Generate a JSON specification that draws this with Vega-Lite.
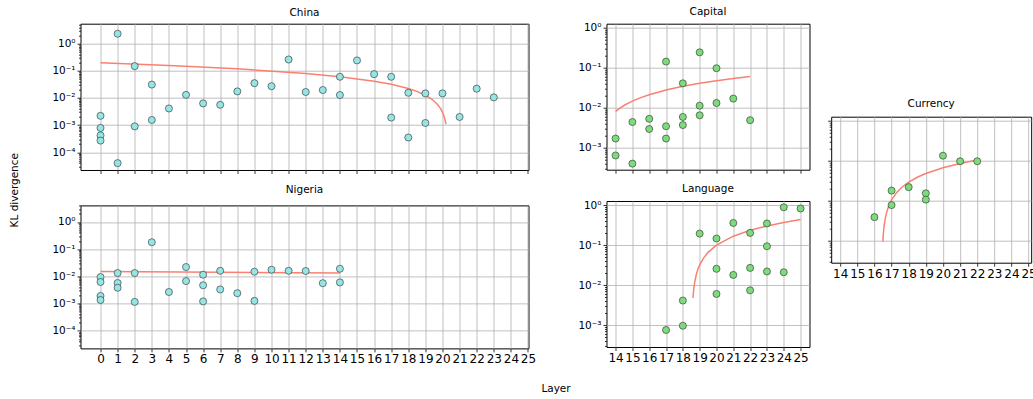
{
  "$schema": "https://vega.github.io/schema/vega-lite/v6.json",
  "padding": {"left": 8.5, "top": 5.7, "right": 0, "bottom": 0},
  "config": {
    "view": {"stroke": "black", "strokeWidth": 1},
    "title": {"font": "DejaVu Sans", "fontSize": 10.5, "fontWeight": "normal", "color": "black", "offset": 6, "frame": "group"},
    "axis": {"domain": false, "grid": true, "gridColor": "#b0b0b0", "gridWidth": 0.8, "tickColor": "black", "tickWidth": 0.8, "tickSize": 3.5,
      "labelFont": "DejaVu Sans", "labelColor": "black", "labelOverlap": false, "labelFlush": false,
      "titleFont": "DejaVu Sans", "titleFontSize": 10.5, "titleFontWeight": "normal", "titleColor": "black"}
  },
  "datasets": {
    "pts": [
      {"p": "China", "layer": 0, "kl": 0.0022}, {"p": "China", "layer": 0, "kl": 0.00079}, {"p": "China", "layer": 0, "kl": 0.00042}, {"p": "China", "layer": 0, "kl": 0.00027},
      {"p": "China", "layer": 1, "kl": 2.3}, {"p": "China", "layer": 1, "kl": 0.00004},
      {"p": "China", "layer": 2, "kl": 0.148}, {"p": "China", "layer": 2, "kl": 0.0009},
      {"p": "China", "layer": 3, "kl": 0.031}, {"p": "China", "layer": 3, "kl": 0.00155},
      {"p": "China", "layer": 4, "kl": 0.0041},
      {"p": "China", "layer": 5, "kl": 0.013},
      {"p": "China", "layer": 6, "kl": 0.0063},
      {"p": "China", "layer": 7, "kl": 0.0056},
      {"p": "China", "layer": 8, "kl": 0.0174},
      {"p": "China", "layer": 9, "kl": 0.035},
      {"p": "China", "layer": 10, "kl": 0.027},
      {"p": "China", "layer": 11, "kl": 0.26},
      {"p": "China", "layer": 12, "kl": 0.0165},
      {"p": "China", "layer": 13, "kl": 0.0195},
      {"p": "China", "layer": 14, "kl": 0.06}, {"p": "China", "layer": 14, "kl": 0.0128},
      {"p": "China", "layer": 15, "kl": 0.24},
      {"p": "China", "layer": 16, "kl": 0.075},
      {"p": "China", "layer": 17, "kl": 0.06}, {"p": "China", "layer": 17, "kl": 0.0019},
      {"p": "China", "layer": 18, "kl": 0.0155}, {"p": "China", "layer": 18, "kl": 0.00035},
      {"p": "China", "layer": 19, "kl": 0.0147}, {"p": "China", "layer": 19, "kl": 0.0012},
      {"p": "China", "layer": 20, "kl": 0.0147},
      {"p": "China", "layer": 21, "kl": 0.002},
      {"p": "China", "layer": 22, "kl": 0.022},
      {"p": "China", "layer": 23, "kl": 0.0105},
      {"p": "Nigeria", "layer": 0, "kl": 0.0094}, {"p": "Nigeria", "layer": 0, "kl": 0.0062}, {"p": "Nigeria", "layer": 0, "kl": 0.0019}, {"p": "Nigeria", "layer": 0, "kl": 0.00135},
      {"p": "Nigeria", "layer": 1, "kl": 0.0132}, {"p": "Nigeria", "layer": 1, "kl": 0.0057}, {"p": "Nigeria", "layer": 1, "kl": 0.0038},
      {"p": "Nigeria", "layer": 2, "kl": 0.0132}, {"p": "Nigeria", "layer": 2, "kl": 0.00115},
      {"p": "Nigeria", "layer": 3, "kl": 0.18},
      {"p": "Nigeria", "layer": 4, "kl": 0.00265},
      {"p": "Nigeria", "layer": 5, "kl": 0.022}, {"p": "Nigeria", "layer": 5, "kl": 0.0067},
      {"p": "Nigeria", "layer": 6, "kl": 0.0115}, {"p": "Nigeria", "layer": 6, "kl": 0.0047}, {"p": "Nigeria", "layer": 6, "kl": 0.0012},
      {"p": "Nigeria", "layer": 7, "kl": 0.016}, {"p": "Nigeria", "layer": 7, "kl": 0.0033},
      {"p": "Nigeria", "layer": 8, "kl": 0.0024},
      {"p": "Nigeria", "layer": 9, "kl": 0.0148}, {"p": "Nigeria", "layer": 9, "kl": 0.00125},
      {"p": "Nigeria", "layer": 10, "kl": 0.0175},
      {"p": "Nigeria", "layer": 11, "kl": 0.016},
      {"p": "Nigeria", "layer": 12, "kl": 0.0157},
      {"p": "Nigeria", "layer": 13, "kl": 0.0056},
      {"p": "Nigeria", "layer": 14, "kl": 0.019}, {"p": "Nigeria", "layer": 14, "kl": 0.006},
      {"p": "Capital", "layer": 14, "kl": 0.0017}, {"p": "Capital", "layer": 14, "kl": 0.00064},
      {"p": "Capital", "layer": 15, "kl": 0.0044}, {"p": "Capital", "layer": 15, "kl": 0.0004},
      {"p": "Capital", "layer": 16, "kl": 0.0053}, {"p": "Capital", "layer": 16, "kl": 0.00295},
      {"p": "Capital", "layer": 17, "kl": 0.144}, {"p": "Capital", "layer": 17, "kl": 0.00345}, {"p": "Capital", "layer": 17, "kl": 0.0017},
      {"p": "Capital", "layer": 18, "kl": 0.041}, {"p": "Capital", "layer": 18, "kl": 0.0059}, {"p": "Capital", "layer": 18, "kl": 0.0037},
      {"p": "Capital", "layer": 19, "kl": 0.245}, {"p": "Capital", "layer": 19, "kl": 0.0113}, {"p": "Capital", "layer": 19, "kl": 0.0065},
      {"p": "Capital", "layer": 20, "kl": 0.098}, {"p": "Capital", "layer": 20, "kl": 0.0132},
      {"p": "Capital", "layer": 21, "kl": 0.017},
      {"p": "Capital", "layer": 22, "kl": 0.0049},
      {"p": "Language", "layer": 17, "kl": 0.00075},
      {"p": "Language", "layer": 18, "kl": 0.0041}, {"p": "Language", "layer": 18, "kl": 0.00096},
      {"p": "Language", "layer": 19, "kl": 0.195},
      {"p": "Language", "layer": 20, "kl": 0.147}, {"p": "Language", "layer": 20, "kl": 0.0256}, {"p": "Language", "layer": 20, "kl": 0.006},
      {"p": "Language", "layer": 21, "kl": 0.36}, {"p": "Language", "layer": 21, "kl": 0.018},
      {"p": "Language", "layer": 22, "kl": 0.203}, {"p": "Language", "layer": 22, "kl": 0.027}, {"p": "Language", "layer": 22, "kl": 0.0074},
      {"p": "Language", "layer": 23, "kl": 0.35}, {"p": "Language", "layer": 23, "kl": 0.094}, {"p": "Language", "layer": 23, "kl": 0.022},
      {"p": "Language", "layer": 24, "kl": 0.89}, {"p": "Language", "layer": 24, "kl": 0.021},
      {"p": "Language", "layer": 25, "kl": 0.83},
      {"p": "Currency", "layer": 16, "kl": 0.0039},
      {"p": "Currency", "layer": 17, "kl": 0.018}, {"p": "Currency", "layer": 17, "kl": 0.0078},
      {"p": "Currency", "layer": 18, "kl": 0.022},
      {"p": "Currency", "layer": 19, "kl": 0.0154}, {"p": "Currency", "layer": 19, "kl": 0.0107},
      {"p": "Currency", "layer": 20, "kl": 0.135},
      {"p": "Currency", "layer": 21, "kl": 0.098},
      {"p": "Currency", "layer": 22, "kl": 0.098}
    ],
    "fit": [
      {"p": "China", "layer": 0, "kl": 0.195}, {"p": "China", "layer": 4, "kl": 0.1566}, {"p": "China", "layer": 8, "kl": 0.1182},
      {"p": "China", "layer": 12, "kl": 0.0798}, {"p": "China", "layer": 14, "kl": 0.0606}, {"p": "China", "layer": 16, "kl": 0.0414},
      {"p": "China", "layer": 17, "kl": 0.0318}, {"p": "China", "layer": 18, "kl": 0.0222}, {"p": "China", "layer": 18.5, "kl": 0.0174},
      {"p": "China", "layer": 19, "kl": 0.0126}, {"p": "China", "layer": 19.4, "kl": 0.00876}, {"p": "China", "layer": 19.7, "kl": 0.00588},
      {"p": "China", "layer": 19.9, "kl": 0.00396}, {"p": "China", "layer": 20.05, "kl": 0.00252}, {"p": "China", "layer": 20.15, "kl": 0.00156},
      {"p": "China", "layer": 20.2, "kl": 0.00108},
      {"p": "Nigeria", "layer": 0, "kl": 0.0151}, {"p": "Nigeria", "layer": 7, "kl": 0.01415}, {"p": "Nigeria", "layer": 14, "kl": 0.0132},
      {"p": "Capital", "layer": 14, "kl": 0.0081}, {"p": "Capital", "layer": 14.3, "kl": 0.0101}, {"p": "Capital", "layer": 14.6, "kl": 0.0121},
      {"p": "Capital", "layer": 15, "kl": 0.0147}, {"p": "Capital", "layer": 15.5, "kl": 0.018}, {"p": "Capital", "layer": 16, "kl": 0.0213},
      {"p": "Capital", "layer": 17, "kl": 0.0279}, {"p": "Capital", "layer": 18, "kl": 0.0345}, {"p": "Capital", "layer": 19, "kl": 0.0411},
      {"p": "Capital", "layer": 20, "kl": 0.0477}, {"p": "Capital", "layer": 21, "kl": 0.0543}, {"p": "Capital", "layer": 22, "kl": 0.0609},
      {"p": "Language", "layer": 18.6, "kl": 0.00476}, {"p": "Language", "layer": 18.65, "kl": 0.00816}, {"p": "Language", "layer": 18.7, "kl": 0.01156},
      {"p": "Language", "layer": 18.8, "kl": 0.0184}, {"p": "Language", "layer": 18.9, "kl": 0.0252}, {"p": "Language", "layer": 19, "kl": 0.032},
      {"p": "Language", "layer": 19.25, "kl": 0.049}, {"p": "Language", "layer": 19.5, "kl": 0.066}, {"p": "Language", "layer": 20, "kl": 0.1},
      {"p": "Language", "layer": 21, "kl": 0.168}, {"p": "Language", "layer": 22, "kl": 0.236}, {"p": "Language", "layer": 23, "kl": 0.304},
      {"p": "Language", "layer": 24, "kl": 0.372}, {"p": "Language", "layer": 25, "kl": 0.44},
      {"p": "Currency", "layer": 16.49, "kl": 0.00095}, {"p": "Currency", "layer": 16.52, "kl": 0.00151}, {"p": "Currency", "layer": 16.56, "kl": 0.00227},
      {"p": "Currency", "layer": 16.62, "kl": 0.0034}, {"p": "Currency", "layer": 16.7, "kl": 0.00491}, {"p": "Currency", "layer": 16.8, "kl": 0.0068},
      {"p": "Currency", "layer": 17, "kl": 0.01058}, {"p": "Currency", "layer": 17.3, "kl": 0.01625}, {"p": "Currency", "layer": 17.6, "kl": 0.0219},
      {"p": "Currency", "layer": 18, "kl": 0.0295}, {"p": "Currency", "layer": 18.5, "kl": 0.0389}, {"p": "Currency", "layer": 19, "kl": 0.0484},
      {"p": "Currency", "layer": 20, "kl": 0.0673}, {"p": "Currency", "layer": 21, "kl": 0.0862}, {"p": "Currency", "layer": 22, "kl": 0.1051}
    ]
  },
  "spacing": 5,
  "hconcat": [
    {
      "bounds": "flush",
      "spacing": 34.7,
      "vconcat": [
        {
          "title": {"text": "China", "offset": 1},
          "width": 448, "height": 146.3,
          "encoding": {
            "x": {"field": "layer", "type": "quantitative", "scale": {"domain": [-1.17, 25.03], "nice": false, "zero": false},
              "axis": {"values": [0,1,2,3,4,5,6,7,8,9,10,11,12,13,14,15,16,17,18,19,20,21,22,23,24,25], "labels": false, "title": null}},
            "y": {"field": "kl", "type": "quantitative", "scale": {"type": "log", "domain": [0.0000224, 5.38], "nice": false},
              "axis": {"values": [0.00003,0.00004,0.00005,0.00006,0.00007,0.00008,0.00009,0.0001,0.0002,0.0003,0.0004,0.0005,0.0006,0.0007,0.0008,0.0009,0.001,0.002,0.003,0.004,0.005,0.006,0.007,0.008,0.009,0.01,0.02,0.03,0.04,0.05,0.06,0.07,0.08,0.09,0.1,0.2,0.3,0.4,0.5,0.6,0.7,0.8,0.9,1,2,3,4,5],
                "labelExpr": "datum.value == 1 ? '10⁰' : datum.value == 0.1 ? '10⁻¹' : datum.value == 0.01 ? '10⁻²' : datum.value == 0.001 ? '10⁻³' : datum.value == 0.0001 ? '10⁻⁴' : ''",
                "labelFontSize": 10.5,
                "tickSize": {"condition": {"test": "indexof([1,0.1,0.01,0.001,0.0001], datum.value) >= 0", "value": 3.5}, "value": 2},
                "gridOpacity": {"condition": {"test": "indexof([1,0.1,0.01,0.001,0.0001], datum.value) >= 0", "value": 1}, "value": 0},
                "title": "KL divergence", "titleX": -66, "titleY": 166, "titleAlign": "center", "titleBaseline": "middle", "titleAngle": -90}}
          },
          "layer": [
            {"data": {"name": "fit"}, "transform": [{"filter": "datum.p == 'China'"}], "mark": {"type": "line", "color": "#fa8072", "strokeWidth": 1.5}},
            {"data": {"name": "pts"}, "transform": [{"filter": "datum.p == 'China'"}], "mark": {"type": "point", "shape": "circle", "filled": true, "fill": "#95e5e5", "stroke": "#2b2b2b", "strokeWidth": 0.6, "size": 50, "opacity": 1}}
          ]
        },
        {
          "title": {"text": "Nigeria", "offset": 5},
          "width": 448, "height": 143,
          "encoding": {
            "x": {"field": "layer", "type": "quantitative", "scale": {"domain": [-1.17, 25.03], "nice": false, "zero": false},
              "axis": {"values": [0,1,2,3,4,5,6,7,8,9,10,11,12,13,14,15,16,17,18,19,20,21,22,23,24,25], "labelFontSize": 12,
                "title": "Layer", "titleX": 475, "titleY": 40.3, "titleAlign": "center", "titleBaseline": "middle"}},
            "y": {"field": "kl", "type": "quantitative", "scale": {"type": "log", "domain": [0.0000224, 4.07], "nice": false},
              "axis": {"values": [0.00003,0.00004,0.00005,0.00006,0.00007,0.00008,0.00009,0.0001,0.0002,0.0003,0.0004,0.0005,0.0006,0.0007,0.0008,0.0009,0.001,0.002,0.003,0.004,0.005,0.006,0.007,0.008,0.009,0.01,0.02,0.03,0.04,0.05,0.06,0.07,0.08,0.09,0.1,0.2,0.3,0.4,0.5,0.6,0.7,0.8,0.9,1,2,3,4],
                "labelExpr": "datum.value == 1 ? '10⁰' : datum.value == 0.1 ? '10⁻¹' : datum.value == 0.01 ? '10⁻²' : datum.value == 0.001 ? '10⁻³' : datum.value == 0.0001 ? '10⁻⁴' : ''",
                "labelFontSize": 10.5,
                "tickSize": {"condition": {"test": "indexof([1,0.1,0.01,0.001,0.0001], datum.value) >= 0", "value": 3.5}, "value": 2},
                "gridOpacity": {"condition": {"test": "indexof([1,0.1,0.01,0.001,0.0001], datum.value) >= 0", "value": 1}, "value": 0},
                "title": null}}
          },
          "layer": [
            {"data": {"name": "fit"}, "transform": [{"filter": "datum.p == 'Nigeria'"}], "mark": {"type": "line", "color": "#fa8072", "strokeWidth": 1.5}},
            {"data": {"name": "pts"}, "transform": [{"filter": "datum.p == 'Nigeria'"}], "mark": {"type": "point", "shape": "circle", "filled": true, "fill": "#95e5e5", "stroke": "#2b2b2b", "strokeWidth": 0.6, "size": 50, "opacity": 1}}
          ]
        }
      ]
    },
    {
      "spacing": 15.7,
      "hconcat": [
        {
          "bounds": "flush",
          "spacing": 31.3,
          "vconcat": [
            {
              "title": {"text": "Capital", "offset": 5.5},
              "width": 203, "height": 146,
              "encoding": {
                "x": {"field": "layer", "type": "quantitative", "scale": {"domain": [13.46, 25.53], "nice": false, "zero": false},
                  "axis": {"values": [14,15,16,17,18,19,20,21,22,23,24,25], "labels": false, "title": null}},
                "y": {"field": "kl", "type": "quantitative", "scale": {"type": "log", "domain": [0.0002818, 1.279], "nice": false},
                  "axis": {"values": [0.0003,0.0004,0.0005,0.0006,0.0007,0.0008,0.0009,0.001,0.002,0.003,0.004,0.005,0.006,0.007,0.008,0.009,0.01,0.02,0.03,0.04,0.05,0.06,0.07,0.08,0.09,0.1,0.2,0.3,0.4,0.5,0.6,0.7,0.8,0.9,1],
                    "labelExpr": "datum.value == 1 ? '10⁰' : datum.value == 0.1 ? '10⁻¹' : datum.value == 0.01 ? '10⁻²' : datum.value == 0.001 ? '10⁻³' : datum.value == 0.0001 ? '10⁻⁴' : ''",
                    "labelFontSize": 10.5,
                    "tickSize": {"condition": {"test": "indexof([1,0.1,0.01,0.001,0.0001], datum.value) >= 0", "value": 3.5}, "value": 2},
                    "gridOpacity": {"condition": {"test": "indexof([1,0.1,0.01,0.001,0.0001], datum.value) >= 0", "value": 1}, "value": 0},
                    "title": null}}
              },
              "layer": [
                {"data": {"name": "fit"}, "transform": [{"filter": "datum.p == 'Capital'"}], "mark": {"type": "line", "color": "#fa8072", "strokeWidth": 1.5}},
                {"data": {"name": "pts"}, "transform": [{"filter": "datum.p == 'Capital'"}], "mark": {"type": "point", "shape": "circle", "filled": true, "fill": "#7cdc7c", "stroke": "#2b2b2b", "strokeWidth": 0.6, "size": 50, "opacity": 1}}
              ]
            },
            {
              "title": {"text": "Language", "offset": 6},
              "width": 203, "height": 146,
              "encoding": {
                "x": {"field": "layer", "type": "quantitative", "scale": {"domain": [13.46, 25.53], "nice": false, "zero": false},
                  "axis": {"values": [14,15,16,17,18,19,20,21,22,23,24,25], "labelFontSize": 12, "title": null}},
                "y": {"field": "kl", "type": "quantitative", "scale": {"type": "log", "domain": [0.0002818, 1.279], "nice": false},
                  "axis": {"values": [0.0003,0.0004,0.0005,0.0006,0.0007,0.0008,0.0009,0.001,0.002,0.003,0.004,0.005,0.006,0.007,0.008,0.009,0.01,0.02,0.03,0.04,0.05,0.06,0.07,0.08,0.09,0.1,0.2,0.3,0.4,0.5,0.6,0.7,0.8,0.9,1],
                    "labelExpr": "datum.value == 1 ? '10⁰' : datum.value == 0.1 ? '10⁻¹' : datum.value == 0.01 ? '10⁻²' : datum.value == 0.001 ? '10⁻³' : datum.value == 0.0001 ? '10⁻⁴' : ''",
                    "labelFontSize": 10.5,
                    "tickSize": {"condition": {"test": "indexof([1,0.1,0.01,0.001,0.0001], datum.value) >= 0", "value": 3.5}, "value": 2},
                    "gridOpacity": {"condition": {"test": "indexof([1,0.1,0.01,0.001,0.0001], datum.value) >= 0", "value": 1}, "value": 0},
                    "title": null}}
              },
              "layer": [
                {"data": {"name": "fit"}, "transform": [{"filter": "datum.p == 'Language'"}], "mark": {"type": "line", "color": "#fa8072", "strokeWidth": 1.5}},
                {"data": {"name": "pts"}, "transform": [{"filter": "datum.p == 'Language'"}], "mark": {"type": "point", "shape": "circle", "filled": true, "fill": "#7cdc7c", "stroke": "#2b2b2b", "strokeWidth": 0.6, "size": 50, "opacity": 1}}
              ]
            }
          ]
        },
        {
          "bounds": "flush",
          "spacing": 10,
          "vconcat": [
            {
              "width": 200, "height": 82.3,
              "view": {"stroke": null},
              "data": {"values": [{}]},
              "mark": {"type": "point", "opacity": 0},
              "encoding": {}
            },
            {
              "title": {"text": "Currency", "offset": 7},
              "width": 200, "height": 146,
              "encoding": {
                "x": {"field": "layer", "type": "quantitative", "scale": {"domain": [13.475, 25.15], "nice": false, "zero": false},
                  "axis": {"values": [14,15,16,17,18,19,20,21,22,23,24,25], "labelFontSize": 12, "title": null}},
                "y": {"field": "kl", "type": "quantitative", "scale": {"type": "log", "domain": [0.0002818, 1.279], "nice": false},
                  "axis": {"values": [0.0003,0.0004,0.0005,0.0006,0.0007,0.0008,0.0009,0.001,0.002,0.003,0.004,0.005,0.006,0.007,0.008,0.009,0.01,0.02,0.03,0.04,0.05,0.06,0.07,0.08,0.09,0.1,0.2,0.3,0.4,0.5,0.6,0.7,0.8,0.9,1],
                    "labels": false,
                    "tickSize": {"condition": {"test": "indexof([1,0.1,0.01,0.001,0.0001], datum.value) >= 0", "value": 3.5}, "value": 2},
                    "gridOpacity": {"condition": {"test": "indexof([1,0.1,0.01,0.001,0.0001], datum.value) >= 0", "value": 1}, "value": 0},
                    "title": null}}
              },
              "layer": [
                {"data": {"name": "fit"}, "transform": [{"filter": "datum.p == 'Currency'"}], "mark": {"type": "line", "color": "#fa8072", "strokeWidth": 1.5}},
                {"data": {"name": "pts"}, "transform": [{"filter": "datum.p == 'Currency'"}], "mark": {"type": "point", "shape": "circle", "filled": true, "fill": "#7cdc7c", "stroke": "#2b2b2b", "strokeWidth": 0.6, "size": 50, "opacity": 1}}
              ]
            }
          ]
        }
      ]
    }
  ]
}
